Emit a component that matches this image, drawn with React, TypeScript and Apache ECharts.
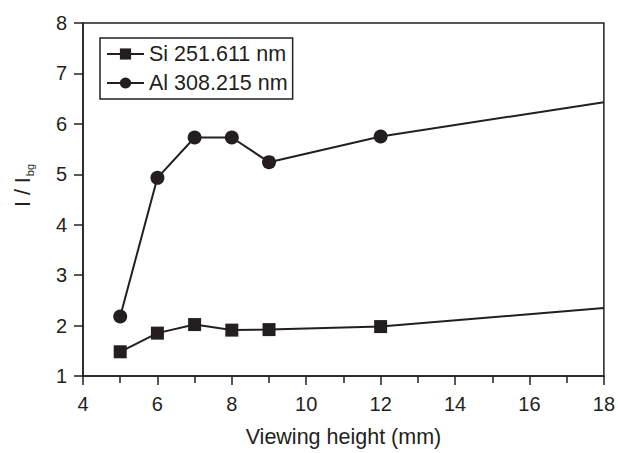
import React, { useEffect, useRef } from "react";
import * as echarts from "echarts";

const viewingHeight = [5, 6, 7, 8, 9, 12, 18];
const siValues = [1.48, 1.85, 2.02, 1.91, 1.92, 1.98, 2.35];
const alValues = [2.18, 4.93, 5.73, 5.73, 5.24, 5.75, 6.43];
const markedCount = 6;
const siName = "Si 251.611 nm";
const alName = "Al 308.215 nm";

const INK = "#231f20";
const FONT = "Liberation Sans, Arial, Helvetica, sans-serif";

function buildData(values: number[]) {
  return viewingHeight.map((x, i) =>
    i < markedCount ? { value: [x, values[i]] } : { value: [x, values[i]], symbol: "none" }
  );
}

export default function App() {
  const ref = useRef<HTMLDivElement>(null);
  useEffect(() => {
    if (!ref.current) return;
    const chart = echarts.init(ref.current, null, { renderer: "svg" });
    chart.setOption({
      animation: false,
      backgroundColor: "#ffffff",
      grid: {
        left: 83,
        right: 13,
        top: 23,
        bottom: 71,
        show: true,
        borderColor: INK,
        borderWidth: 1.5,
      },
      legend: {
        orient: "vertical",
        left: 100,
        top: 38,
        padding: [5, 5, 5, 6],
        itemGap: 7,
        itemWidth: 37,
        itemHeight: 14,
        borderColor: INK,
        borderWidth: 1.5,
        textStyle: { fontFamily: FONT, fontSize: 21.5, color: INK },
        data: [siName, alName],
      },
      xAxis: {
        type: "value",
        min: 4,
        max: 18,
        interval: 2,
        name: "Viewing height (mm)",
        nameLocation: "middle",
        nameGap: 50,
        nameTextStyle: { fontFamily: FONT, fontSize: 21.5, color: INK },
        axisLine: { lineStyle: { color: INK, width: 1.5 } },
        axisTick: { length: 9, lineStyle: { color: INK, width: 1.5 } },
        minorTick: { show: true, splitNumber: 2, length: 7, lineStyle: { color: INK, width: 1.5 } },
        axisLabel: { fontFamily: FONT, fontSize: 20, color: INK, margin: 18 },
        splitLine: { show: false },
      },
      yAxis: {
        type: "value",
        min: 1,
        max: 8,
        interval: 1,
        name: "{a|I / I}{b|bg}",
        nameLocation: "middle",
        nameGap: 48,
        nameTextStyle: {
          fontFamily: FONT,
          color: INK,
          padding: [0, 0, 0, 28],
          rich: {
            a: { fontFamily: FONT, fontSize: 21.5, color: INK },
            b: { fontFamily: FONT, fontSize: 11, color: INK, verticalAlign: "bottom", padding: [14, 0, 0, 1] },
          },
        },
        axisLine: { show: true, lineStyle: { color: INK, width: 1.5 } },
        axisTick: { show: true, length: 9, lineStyle: { color: INK, width: 1.5 } },
        axisLabel: { fontFamily: FONT, fontSize: 20, color: INK, margin: 16 },
        splitLine: { show: false },
      },
      series: [
        {
          name: siName,
          type: "line",
          data: buildData(siValues),
          symbol: "rect",
          symbolSize: 13,
          lineStyle: { color: INK, width: 2 },
          itemStyle: { color: INK },
        },
        {
          name: alName,
          type: "line",
          data: buildData(alValues),
          symbol: "circle",
          symbolSize: 14,
          lineStyle: { color: INK, width: 2 },
          itemStyle: { color: INK },
        },
      ],
    });
    return () => chart.dispose();
  }, []);
  return <div ref={ref} style={{ width: 618, height: 453, position: "absolute", left: 0, top: 0 }} />;
}
